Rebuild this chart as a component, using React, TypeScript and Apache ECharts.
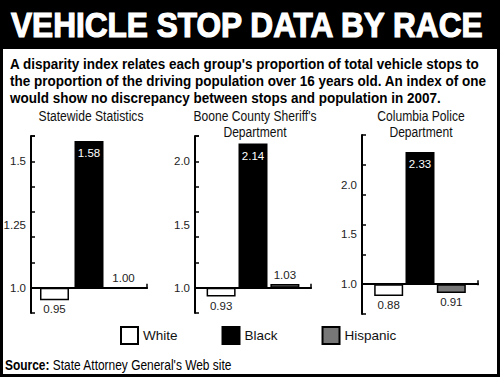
import React, { useEffect, useRef } from "react";
import * as echarts from "echarts";

const FONT = '"Liberation Sans", Arial, sans-serif';

const groups = ["White", "Black", "Hispanic"];
const panelTitles = ["Statewide Statistics", "Boone County Sheriff's\nDepartment", "Columbia Police\nDepartment"];
const whiteValues = [0.95, 0.93, 0.88];
const blackValues = [1.58, 2.14, 2.33];
const hispanicValues = [1.0, 1.03, 0.91];
const axisMin = [0.9, 0.8, 0.7];
const axisMax = [1.6, 2.2, 2.5];
const tickStep = [0.1, 0.2, 0.3];
const tickLabels = [
  ["1.0", "1.25", "1.5"],
  ["1.0", "1.5", "2.0"],
  ["1.0", "1.5", "2.0"],
];
const BASE = 1.0;

const titleText = "VEHICLE STOP DATA BY RACE";
const descLines = [
  "A disparity index relates each group's proportion of total vehicle stops to",
  "the proportion of the driving population over 16 years old. An index of one",
  "would show no discrepancy between stops and population in 2007.",
];
const sourceLabel = "Source:";
const sourceText = " State Attorney General's Web site";

// layout (pixels)
const gridLeft = [31, 195, 362];
const gridWidth = [116, 116, 116];
const gridTop = [136, 136, 135];
const gridHeight = [177, 177, 179];
const barGaps = ["19%", "10%", "8%"];
const titleCenterX = [91, 255, 421];

const colors: Record<string, string> = { White: "#ffffff", Black: "#000000", Hispanic: "#777777" };

function fitScale(text: string, font: string, target: number): number {
  const ctx = document.createElement("canvas").getContext("2d");
  if (!ctx) return 1;
  ctx.font = font;
  const w = ctx.measureText(text).width;
  return w > 0 ? target / w : 1;
}

export default function App() {
  const ref = useRef<HTMLDivElement>(null);
  useEffect(() => {
    document.body.style.margin = "0";
    const chart = echarts.init(ref.current!, null, { renderer: "svg" });
    const valuesByGroup: Record<string, number[]> = {
      White: whiteValues,
      Black: blackValues,
      Hispanic: hispanicValues,
    };
    const grids: any[] = [];
    const xAxes: any[] = [];
    const yAxes: any[] = [];
    const series: any[] = [];
    const endTicks: any[] = [];
    for (let p = 0; p < 3; p++) {
      grids.push({ left: gridLeft[p], top: gridTop[p], width: gridWidth[p], height: gridHeight[p], containLabel: false });
      xAxes.push({
        type: "category",
        gridIndex: p,
        data: [""],
        axisLine: { onZero: true, lineStyle: { color: "#000", width: 2 } },
        axisTick: { show: false },
        axisLabel: { show: false },
      });
      const lo = axisMin[p] - BASE;
      const hi = axisMax[p] - BASE;
      yAxes.push({
        type: "value",
        gridIndex: p,
        position: "left",
        min: lo,
        max: hi,
        interval: tickStep[p],
        splitLine: { show: false },
        axisLine: { show: true, lineStyle: { color: "#000", width: 2 } },
        axisTick: { show: true, inside: true, length: 4, lineStyle: { color: "#000", width: 1.5 } },
        axisLabel: { show: false },
      });
      const labs = tickLabels[p];
      yAxes.push({
        type: "value",
        gridIndex: p,
        position: "left",
        min: lo,
        max: hi,
        interval: 0.05,
        splitLine: { show: false },
        axisLine: { show: false },
        axisTick: { show: false },
        axisLabel: {
          show: true,
          margin: 5,
          color: "#222",
          fontFamily: FONT,
          fontSize: 11.5,
          formatter: (v: number) => {
            for (const s of labs) {
              if (Math.abs(parseFloat(s) - BASE - v) < 1e-6) return s;
            }
            return "";
          },
        },
      });
      // small upturned end tick at the right end of the baseline
      const baseY = gridTop[p] + (gridHeight[p] * hi) / (hi - lo);
      const endX = gridLeft[p] + gridWidth[p];
      endTicks.push({
        type: "line",
        shape: { x1: endX, y1: baseY + 1, x2: endX, y2: baseY - 4 },
        style: { stroke: "#000", lineWidth: 1.5 },
        silent: true,
      });
      for (const g of groups) {
        const raw = valuesByGroup[g][p];
        const delta = raw - BASE;
        let pos = delta < 0 ? "bottom" : "top";
        let labelColor = "#222";
        if (g === "Black") {
          pos = "insideTop";
          labelColor = "#fff";
        }
        series.push({
          name: g,
          type: "bar",
          xAxisIndex: p,
          yAxisIndex: p * 2,
          barWidth: 29,
          barGap: barGaps[p],
          itemStyle: { color: colors[g], borderColor: "#000", borderWidth: 1.5 },
          label: {
            show: true,
            position: pos,
            distance: g === "Black" ? 6 : 3,
            color: labelColor,
            fontFamily: FONT,
            fontSize: 11.5,
            formatter: () => raw.toFixed(2),
          },
          data: [delta],
        });
      }
    }

    const titleFont = `bold 35px ${FONT}`;
    const descFont = `bold 15.5px ${FONT}`;
    const ptFont = `14.5px ${FONT}`;
    const srcFont = `14px ${FONT}`;
    const titleScale = fitScale(titleText, titleFont, 474);
    const descScale = fitScale(descLines[0], descFont, 470);
    const ptScale = fitScale(panelTitles[0], ptFont, 105);
    const srcScale = fitScale("Source: State Attorney General's Web site", srcFont, 224);

    const graphics: any[] = [
      { type: "rect", shape: { x: 0, y: 0, width: 500, height: 49 }, style: { fill: "#000" }, silent: true },
      {
        type: "rect",
        shape: { x: 1.5, y: 1.5, width: 497, height: 374 },
        style: { fill: "none", stroke: "#000", lineWidth: 3 },
        silent: true,
      },
      {
        type: "text",
        x: 11,
        y: 25,
        scaleX: titleScale,
        style: {
          text: titleText,
          fill: "#fff",
          stroke: "#fff",
          lineWidth: 1.2,
          font: titleFont,
          textAlign: "left",
          textVerticalAlign: "middle",
        },
      },
      ...endTicks,
    ];
    descLines.forEach((line, i) => {
      graphics.push({
        type: "text",
        x: 10,
        y: 63.5 + i * 17.3,
        scaleX: descScale,
        style: {
          text: line,
          fill: "#000",
          font: descFont,
          textAlign: "left",
          textVerticalAlign: "middle",
        },
      });
    });
    panelTitles.forEach((t, i) => {
      graphics.push({
        type: "text",
        x: titleCenterX[i],
        y: 108.5,
        scaleX: ptScale,
        style: {
          text: t,
          fill: "#111",
          font: ptFont,
          lineHeight: 16,
          textAlign: "center",
          textVerticalAlign: "top",
        },
      });
    });
    graphics.push({
      type: "text",
      x: 5,
      y: 365,
      scaleX: srcScale,
      style: {
        text: `{b|${sourceLabel}}{r|${sourceText}}`,
        fill: "#000",
        font: srcFont,
        textAlign: "left",
        textVerticalAlign: "middle",
        rich: {
          b: { fontWeight: "bold", fontFamily: FONT, fontSize: 14, fill: "#000" },
          r: { fontFamily: FONT, fontSize: 14, fill: "#000" },
        },
      },
    });

    chart.setOption({
      animation: false,
      backgroundColor: "#fff",
      grid: grids,
      xAxis: xAxes,
      yAxis: yAxes,
      series,
      legend: {
        data: groups,
        left: 115,
        top: 321,
        padding: 5,
        itemWidth: 17,
        itemHeight: 17,
        itemGap: 44,
        icon: "rect",
        textStyle: { fontFamily: FONT, fontSize: 13.5, color: "#111" },
        selectedMode: false,
      },
      graphic: graphics,
    });
    return () => chart.dispose();
  }, []);
  return <div ref={ref} style={{ width: 500, height: 377 }} />;
}
